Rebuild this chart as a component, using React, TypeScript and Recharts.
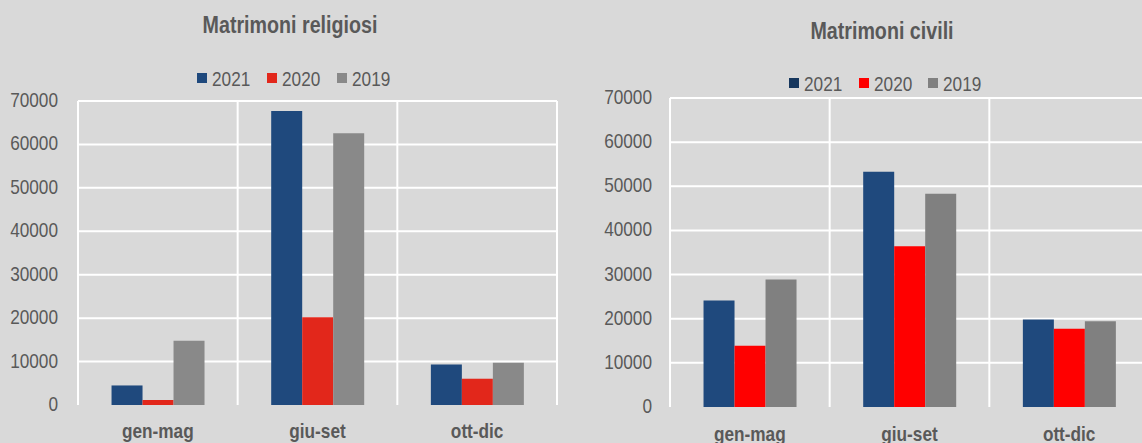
import { BarChart, Bar, XAxis, YAxis, CartesianGrid } from "recharts";

const periods = ["gen-mag", "giu-set", "ott-dic"];
const years = ["2021", "2020", "2019"];

const religiosi2021 = [4500, 67700, 9300];
const religiosi2020 = [1150, 20200, 6050];
const religiosi2019 = [14800, 62600, 9700];

const civili2021 = [24100, 53300, 19800];
const civili2020 = [13900, 36400, 17700];
const civili2019 = [28900, 48300, 19400];

const yTicks = [0, 10000, 20000, 30000, 40000, 50000, 60000, 70000];
const gridValues = yTicks.filter((v) => v > 0);

// no narrow font installed, so Liberation Sans is squeezed horizontally
const FONT = "'Liberation Sans', Arial, sans-serif";
const TEXT = "#595959";
const SQUEEZE = 0.82;

const toRows = (a: number[], b: number[], c: number[]) =>
  periods.map((p, i) => ({ period: p, y2021: a[i], y2020: b[i], y2019: c[i] }));

function NarrowText({ x, y, anchor, size, bold, children }: any) {
  return (
    <text
      x={x}
      y={y}
      textAnchor={anchor}
      fontFamily={FONT}
      fontSize={size}
      fontWeight={bold ? "bold" : "normal"}
      fill={TEXT}
      transform={`translate(${x} 0) scale(${SQUEEZE} 1) translate(${-x} 0)`}
    >
      {children}
    </text>
  );
}

const makeYTick = (shift: number) => (props: any) => (
  <NarrowText x={props.x} y={props.y + shift} anchor="end" size={21}>
    {props.payload.value}
  </NarrowText>
);

const makeXTick = (shift: number) => (props: any) => (
  <NarrowText x={props.x} y={props.y + shift} anchor="middle" size={21} bold>
    {props.payload.value}
  </NarrowText>
);

interface PanelProps {
  title: string;
  rows: { period: string; y2021: number; y2020: number; y2019: number }[];
  colors: string[];
  legendColors: string[];
  left: number;
  titleBase: number;
  titleCenter: number;
  legendBase: number;
  legendX: number[];
  top: number;
  right: number;
  xHeight: number;
  yWidth: number;
  yGap: number;
  xBase: number;
}

function Panel(p: PanelProps) {
  const keys = ["y2021", "y2020", "y2019"];
  return (
    <div style={{ position: "absolute", left: p.left, top: 0, width: 580, height: 443 }}>
      <div style={{ position: "absolute", left: 0, top: 0 }}>
        <BarChart
          width={580}
          height={443}
          data={p.rows}
          margin={{ top: p.top, right: p.right, bottom: 0, left: 0 }}
          barGap={0}
          barCategoryGap="21%"
        >
          <CartesianGrid
            stroke="#ffffff"
            strokeWidth={2}
            horizontalValues={gridValues}
            verticalCoordinatesGenerator={({ offset }: any) =>
              [0, 1, 2, 3].map((i) => offset.left + (offset.width * i) / 3)
            }
          />
          <XAxis
            dataKey="period"
            axisLine={false}
            tickLine={false}
            tickSize={0}
            tickMargin={0}
            height={p.xHeight}
            interval={0}
            tick={makeXTick(p.xBase)}
          />
          <YAxis
            domain={[0, 70000]}
            ticks={yTicks}
            interval={0}
            axisLine={false}
            tickLine={false}
            tickSize={0}
            tickMargin={p.yGap}
            width={p.yWidth}
            tick={makeYTick(6)}
          />
          {keys.map((k, i) => (
            <Bar key={k} dataKey={k} fill={p.colors[i]} isAnimationActive={false} />
          ))}
        </BarChart>
      </div>
      <svg
        width={580}
        height={443}
        style={{ position: "absolute", left: 0, top: 0, pointerEvents: "none" }}
      >
        <NarrowText x={p.titleCenter} y={p.titleBase} anchor="middle" size={24} bold>
          {p.title}
        </NarrowText>
        {years.map((y, i) => (
          <g key={y}>
            <rect x={p.legendX[i]} y={p.legendBase - 13} width={10} height={10} fill={p.legendColors[i]} />
            <NarrowText x={p.legendX[i] + 15} y={p.legendBase} anchor="start" size={21}>
              {y}
            </NarrowText>
          </g>
        ))}
      </svg>
    </div>
  );
}

export default function App() {
  return (
    <div
      style={{
        position: "absolute",
        left: 0,
        top: 0,
        width: 1142,
        height: 443,
        overflow: "hidden",
        background: "#d9d9d9",
      }}
    >
      <Panel
        title="Matrimoni religiosi"
        rows={toRows(religiosi2021, religiosi2020, religiosi2019)}
        colors={["#1f497d", "#e2271b", "#898989"]}
        legendColors={["#1f497d", "#e2271b", "#898989"]}
        left={0}
        titleBase={33}
        titleCenter={290}
        legendBase={86}
        legendX={[197, 267, 337]}
        top={101}
        right={23}
        xHeight={38}
        yWidth={78}
        yGap={20}
        xBase={33}
      />
      <Panel
        title="Matrimoni civili"
        rows={toRows(civili2021, civili2020, civili2019)}
        colors={["#1f497d", "#ff0000", "#808080"]}
        legendColors={["#17375e", "#ff0000", "#808080"]}
        left={580}
        titleBase={39}
        titleCenter={302}
        legendBase={91}
        legendX={[209, 279, 348]}
        top={98}
        right={11}
        xHeight={36}
        yWidth={90}
        yGap={18}
        xBase={34}
      />
    </div>
  );
}
